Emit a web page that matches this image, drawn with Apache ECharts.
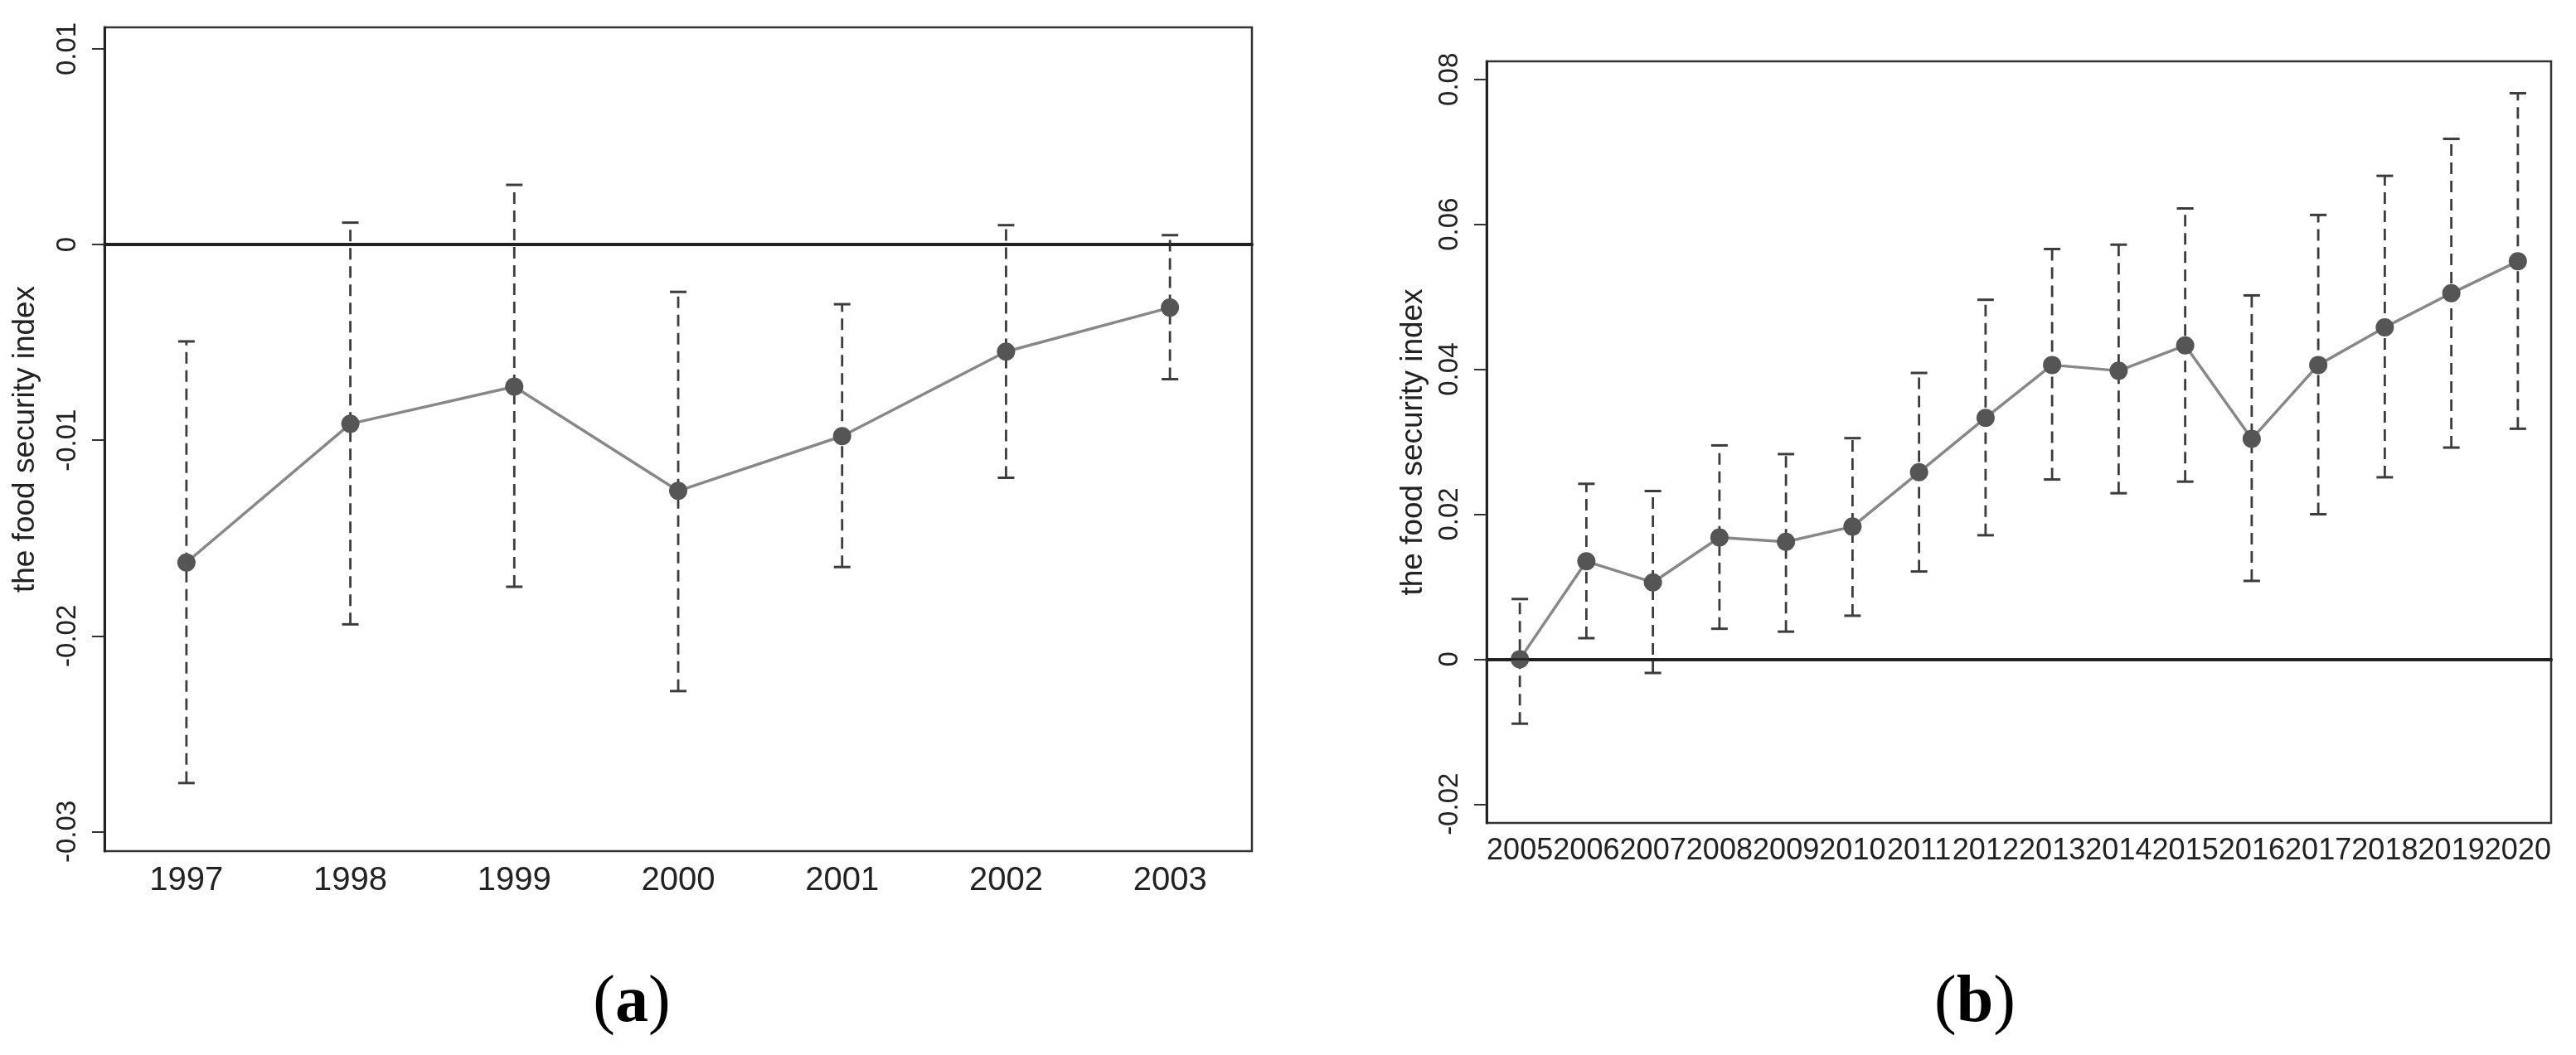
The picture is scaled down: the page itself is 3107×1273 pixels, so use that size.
<!DOCTYPE html>
<html>
<head>
<meta charset="utf-8">
<script src="https://cdn.jsdelivr.net/npm/echarts@6/dist/echarts.min.js"></script>
<style>
  html, body { margin: 0; padding: 0; background: #fff; }
  #chart { width: 3107px; height: 1273px; }
</style>
</head>
<body>
<div id="chart"></div>
<script>
// panel (a)
const yearsA = ['1997', '1998', '1999', '2000', '2001', '2002', '2003'];
const estA   = [-0.01625, -0.00916, -0.00726, -0.01259, -0.00979, -0.00547, -0.00322];
const lowA   = [-0.02752, -0.01941, -0.01749, -0.02282, -0.01648, -0.01192, -0.00688];
const highA  = [-0.00495, 0.00112, 0.00305, -0.00242, -0.00305, 0.00099, 0.00048];
const ticksA = [-0.03, -0.02, -0.01, 0, 0.01];

// panel (b)
const yearsB = ['2005', '2006', '2007', '2008', '2009', '2010', '2011', '2012',
                '2013', '2014', '2015', '2016', '2017', '2018', '2019', '2020'];
const estB  = [0.0, 0.0135, 0.0106, 0.0168, 0.0162, 0.0183, 0.0258, 0.0333,
               0.0406, 0.0398, 0.0433, 0.0304, 0.0406, 0.0458, 0.0505, 0.0549];
const lowB  = [-0.0089, 0.0029, -0.0019, 0.0042, 0.0038, 0.0060, 0.0121, 0.0171,
               0.0248, 0.0229, 0.0245, 0.0108, 0.0200, 0.0251, 0.0292, 0.0318];
const highB = [0.0083, 0.0242, 0.0232, 0.0295, 0.0283, 0.0305, 0.0395, 0.0496,
               0.0566, 0.0572, 0.0622, 0.0502, 0.0613, 0.0667, 0.0718, 0.0781];
const ticksB = [-0.02, 0, 0.02, 0.04, 0.06, 0.08];

const yTitle = 'the food security index';
const FONT = '"Liberation Sans", Arial, sans-serif';

const fmt = v => String(parseFloat(Number(v).toFixed(4)));

// dashed whisker with solid caps
function errorBars(idx, low, high) {
  return {
    type: 'custom',
    xAxisIndex: idx,
    yAxisIndex: idx,
    z: 2,
    silent: true,
    encode: { x: 0, y: [1, 2] },
    data: low.map((l, i) => [i, l, high[i]]),
    renderItem: function (params, api) {
      const i = api.value(0);
      const lo = api.coord([i, api.value(1)]);
      const hi = api.coord([i, api.value(2)]);
      const hw = 10;
      const cap = { stroke: '#3c3c3c', lineWidth: 3 };
      return {
        type: 'group',
        children: [
          { type: 'line', shape: { x1: lo[0], y1: lo[1], x2: hi[0], y2: hi[1] },
            style: { stroke: '#3c3c3c', lineWidth: 2.8, lineDash: [14, 8] } },
          { type: 'line', shape: { x1: lo[0] - hw, y1: lo[1], x2: lo[0] + hw, y2: lo[1] }, style: cap },
          { type: 'line', shape: { x1: hi[0] - hw, y1: hi[1], x2: hi[0] + hw, y2: hi[1] }, style: cap }
        ]
      };
    }
  };
}

function pointLine(idx, est) {
  return {
    type: 'line',
    xAxisIndex: idx,
    yAxisIndex: idx,
    z: 3,
    data: est,
    symbol: 'circle',
    symbolSize: 22,
    itemStyle: { color: '#555' },
    lineStyle: { color: '#888', width: 3.5 },
    markLine: {
      silent: true,
      symbol: 'none',
      label: { show: false },
      lineStyle: { color: '#222', width: 2.5, type: 'solid' },
      data: [{ yAxis: 0 }]
    }
  };
}

function xAxisFor(idx, data, fontSize) {
  return {
    type: 'category',
    gridIndex: idx,
    data: data,
    boundaryGap: true,
    axisLine: { lineStyle: { color: '#222', width: 4 } },
    axisTick: { alignWithLabel: true, length: 17, lineStyle: { color: '#333', width: 2 } },
    axisLabel: { interval: 0, fontSize: fontSize, color: '#222', margin: 16, fontFamily: FONT }
  };
}

function yAxisFor(idx, min, max, ticks, gap) {
  return {
    type: 'value',
    gridIndex: idx,
    min: min,
    max: max,
    splitLine: { show: false },
    axisLine: { show: true, lineStyle: { color: '#222', width: 3 } },
    axisTick: { show: true, length: 15, customValues: ticks, lineStyle: { color: '#333', width: 2 } },
    axisLabel: { customValues: ticks, rotate: 90, fontSize: 33, color: '#222', margin: 28,
                 fontFamily: FONT, formatter: fmt },
    name: yTitle,
    nameLocation: 'middle',
    nameRotate: 90,
    nameGap: gap,
    nameTextStyle: { fontSize: 37, color: '#222', fontFamily: FONT }
  };
}

const chart = echarts.init(document.getElementById('chart'));
chart.setOption({
  animation: false,
  backgroundColor: '#fff',
  grid: [
    { left: 126, top: 33, width: 1384, height: 994, show: true, borderColor: '#333', borderWidth: 2.5 },
    { left: 1793, top: 74, width: 1284, height: 919, show: true, borderColor: '#333', borderWidth: 2.5 }
  ],
  xAxis: [xAxisFor(0, yearsA, 40), xAxisFor(1, yearsB, 36)],
  yAxis: [yAxisFor(0, -0.031, 0.0111, ticksA, 77), yAxisFor(1, -0.0226, 0.0825, ticksB, 70)],
  series: [
    errorBars(0, lowA, highA),
    pointLine(0, estA),
    errorBars(1, lowB, highB),
    pointLine(1, estB)
  ],
  graphic: [
    { type: 'text', x: 762, y: 1211,
      style: { text: '{p|(}{b|a}{p|)}', align: 'center', verticalAlign: 'middle',
               rich: { p: { fontFamily: '"Liberation Serif", serif', fontSize: 80, fill: '#000' },
                       b: { fontFamily: '"Liberation Serif", serif', fontSize: 80, fontWeight: 'bold', fill: '#000' } } } },
    { type: 'text', x: 2382, y: 1211,
      style: { text: '{p|(}{b|b}{p|)}', align: 'center', verticalAlign: 'middle',
               rich: { p: { fontFamily: '"Liberation Serif", serif', fontSize: 80, fill: '#000' },
                       b: { fontFamily: '"Liberation Serif", serif', fontSize: 80, fontWeight: 'bold', fill: '#000' } } } }
  ]
});
</script>
</body>
</html>
